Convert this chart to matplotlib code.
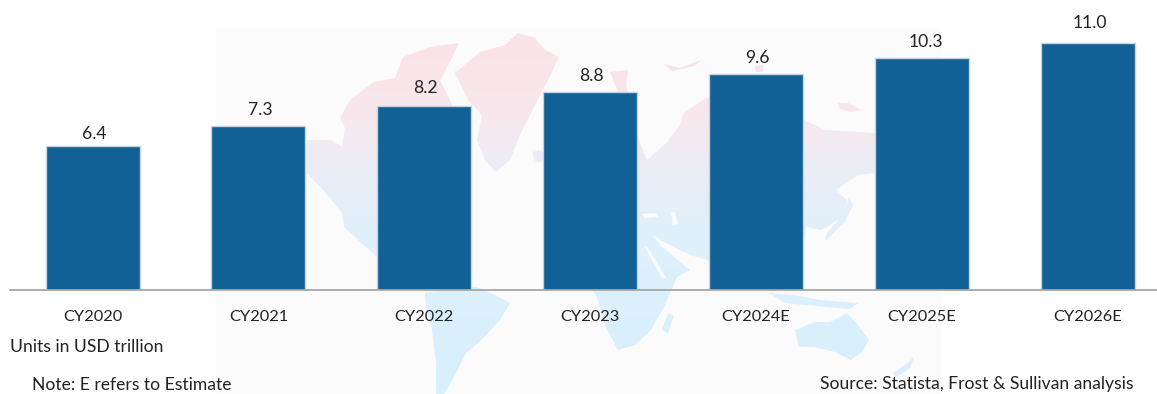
import matplotlib
matplotlib.use('Agg')
import matplotlib.pyplot as plt
from matplotlib.patches import PathPatch, Rectangle
from matplotlib.path import Path
import numpy as np

years = ['CY2020', 'CY2021', 'CY2022', 'CY2023', 'CY2024E', 'CY2025E', 'CY2026E']
values = [6.4, 7.3, 8.2, 8.8, 9.6, 10.3, 11.0]
value_labels = ['6.4', '7.3', '8.2', '8.8', '9.6', '10.3', '11.0']

W, H = 1157, 394
BASE_Y = 290
PX_PER_UNIT = 22.5
STEP = 165.9
FIRST_X = 92.5
FS = 12.6

plt.rcParams['font.family'] = ['Lato', 'DejaVu Sans']

# rough world map outline for the watermark, in image pixels
land = [
    # north america
    [(307,140),(330,140),(342,146),(345,128),(340,118),(350,100),(374,82),(395,78),(403,57),(430,47),(459,43),
     (450,62),(440,80),(450,100),(462,130),(470,175),(470,215),(440,250),(420,285),(400,280),(377,257),
     (344,227),(342,213),(325,192),(307,173)],
    # greenland
    [(455,73),(480,52),(505,45),(518,33),(535,38),(545,50),(559,57),(548,80),(535,105),(520,135),(510,160),
     (496,172),(485,160),(477,140),(482,115),(468,100)],
    # iceland
    [(533,152),(541,150),(546,158),(540,163),(534,160)],
    # south america
    [(425,300),(425,293),(450,288),(477,287),(495,295),(510,303),(500,320),(488,333),(476,345),(466,353),
     (455,375),(444,394),(436,394),(436,363),(432,330)],
    # eurasia
    [(638,138),(647,160),(666,143),(679,127),(684,113),(706,98),(740,105),(790,115),(804,120),(825,130),
     (875,133),(905,150),(890,172),(875,173),(858,175),(836,190),(847,200),(843,217),(821,230),(806,227),
     (800,265),(780,290),(745,270),(715,262),(690,255),(660,240),(640,225),(600,200),(590,170)],
    # africa
    [(600,215),(640,215),(660,245),(690,270),(677,277),(665,305),(651,330),(635,345),(618,350),(605,325),
     (596,295),(578,270),(585,235)],
    # madagascar
    [(668,313),(674,316),(668,333),(662,330)],
    # indonesia and around
    [(769,293),(800,296),(820,300),(858,303),(850,309),(815,306),(785,303)],
    # japan
    [(849,197),(853,205),(845,222),(825,241),(827,233),(843,215)],
    # australia
    [(795,330),(815,322),(830,322),(838,318),(847,313),(858,325),(869,340),(862,352),(851,360),(835,352),
     (815,347),(799,347)],
    # new zealand
    [(914,357),(910,368),(895,378),(893,373),(905,365)],
    # islands up north
    [(610,72),(628,70),(626,85),(629,97),(618,92)],
    [(755,66),(764,65),(763,72),(756,72)],
    [(664,64),(680,68),(701,60),(695,66),(672,71)],
    [(838,103),(848,103),(862,110),(850,112),(840,109)],
]
# inland seas and gulfs cut out of the map
water = [
    [(671,212),(675,212),(678,224),(673,225)],
    [(642,214),(656,213),(658,217),(645,218)],
    [(644,246),(647,246),(666,278),(662,278)],
]

fig = plt.figure(figsize=(W / 100, H / 100), dpi=100, facecolor='white')

bg = fig.add_axes([0, 0, 1, 1], zorder=0)
bg.set_xlim(0, W)
bg.set_ylim(H, 0)
bg.axis('off')
bg.add_patch(Rectangle((216, 28), 725, H - 28, facecolor='#fbfbfb', edgecolor='none'))

verts, codes = [], []
for poly in land:
    verts += poly + [poly[0]]
    codes += [Path.MOVETO] + [Path.LINETO] * (len(poly) - 1) + [Path.CLOSEPOLY]
shape = Path(verts, codes)

# pink at the top fading to light blue
stops_y = [30, 120, 170, 240, 394]
stops_c = np.array([[251, 226, 230], [247, 232, 238], [234, 237, 246], [222, 241, 252], [216, 239, 253]]) / 255
ys = np.arange(0, H)
grad = np.stack([np.interp(ys, stops_y, stops_c[:, i]) for i in range(3)], axis=1)[:, None, :]
im = bg.imshow(grad, extent=(0, W, H, 0), aspect='auto', interpolation='bilinear', zorder=1)
clip = PathPatch(shape, transform=bg.transData, facecolor='none', edgecolor='none')
bg.add_patch(clip)
im.set_clip_path(clip)
bg.set_xlim(0, W)
bg.set_ylim(H, 0)
for poly in water:
    bg.fill(*zip(*poly), color='#fbfbfb', lw=0, zorder=2)

ax = fig.add_axes([0, (H - BASE_Y) / H, 1, BASE_Y / H], zorder=1)
ax.patch.set_visible(False)
ax.set_xlim(-FIRST_X / STEP, (W - FIRST_X) / STEP)
ax.set_ylim(0, BASE_Y / PX_PER_UNIT)

x = np.arange(len(years))
ax.bar(x, values, width=94 / STEP, color='#116196', edgecolor='#c9d2d9', linewidth=1.0)

# the labels sit by hand in the original, gaps above the bars differ a little
label_dx = [1.5, 1.5, 1.5, 1.5, 1.5, 3.5, 2]
label_dy = [3, 7, 8, 7, 7, 7, 10]
for i, v in enumerate(values):
    ax.annotate(value_labels[i], (x[i], v), xytext=(label_dx[i] * 0.72, label_dy[i] * 0.72 + 0.8),
                textcoords='offset points', ha='center', va='bottom', fontsize=FS, color='#222222')

for s in ['top', 'left', 'right']:
    ax.spines[s].set_visible(False)
ax.spines['bottom'].set_color('#a6a6a6')
ax.spines['bottom'].set_linewidth(1.3)
ax.spines['bottom'].set_bounds((10 - FIRST_X) / STEP, (W - FIRST_X) / STEP)
ax.set_yticks([])
ax.set_xticks(x)
ax.set_xticklabels(years, fontsize=11.8, color='#222222')
ax.tick_params(axis='x', length=0, pad=14.5)

fig.text(10 / W, 1 - 346.5 / H, 'Units in USD trillion', fontsize=FS, color='#222222', va='center')
fig.text(32 / W, 1 - 384.5 / H, 'Note: E refers to Estimate', fontsize=FS, color='#222222', va='center')
fig.text(1133 / W, 1 - 384.5 / H, 'Source: Statista, Frost & Sullivan analysis', fontsize=FS,
         color='#222222', va='center', ha='right')

fig.savefig('out.png', dpi=100)
